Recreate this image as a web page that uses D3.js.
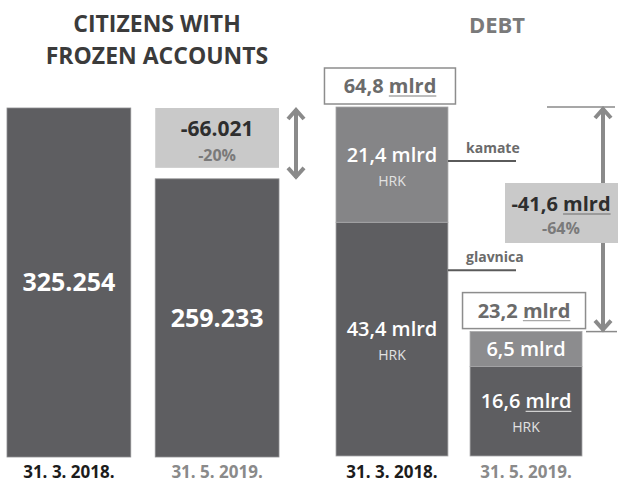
<!DOCTYPE html>
<html>
<head>
<meta charset="utf-8">
<script src="https://cdn.jsdelivr.net/npm/d3@7"></script>
<style>
  body { margin: 0; background: #fff; }
  svg { display: block; font-family: "Open Sans", sans-serif; }
</style>
</head>
<body>
<svg id="chart" width="626" height="489"></svg>
<script>
/** data **/
var dates = ["31. 3. 2018.", "31. 5. 2019."];
var citizens = [325254, 259233];
var citizenLabels = ["325.254", "259.233"];
var citizenDiff = ["-66.021", "-20%"];

var glavnica = [43.4, 16.6];
var kamate = [21.4, 6.5];
var glavnicaLabels = ["43,4", "16,6"];
var kamateLabels = ["21,4", "6,5"];
var debtTotals = ["64,8", "23,2"];
var debtDiff = ["-41,6", "-64%"];

var svg = d3.select("#chart");
var dark = "#5e5e61", mid = "#858587", light = "#c9c9c9", arrowCol = "#8a8a8a";

// arrow helper: vertical line with open chevron heads
function arrow(g, x, y1, y2, up, down) {
  g.append("line").attr("x1", x).attr("x2", x).attr("y1", y1 + 1).attr("y2", y2 - 1)
    .attr("stroke", arrowCol).attr("stroke-width", 4);
  if (up) g.append("path").attr("d", "M" + (x - 8) + "," + (y1 + 11) + "L" + x + "," + (y1 + 2) + "L" + (x + 8) + "," + (y1 + 11))
    .attr("fill", "none").attr("stroke", arrowCol).attr("stroke-width", 4);
  if (down) g.append("path").attr("d", "M" + (x - 8) + "," + (y2 - 11) + "L" + x + "," + (y2 - 2) + "L" + (x + 8) + "," + (y2 - 11))
    .attr("fill", "none").attr("stroke", arrowCol).attr("stroke-width", 4);
}

// "xx mlrd" with a thin underline under mlrd (like the spell-check line in the original)
function mlrdText(g, sel, num, lineCol) {
  var s = num + " mlrd";
  sel.text(s);
  var node = sel.node();
  var a = node.getStartPositionOfChar(s.length - 4);
  var b = node.getEndPositionOfChar(s.length - 1);
  g.append("line").attr("x1", a.x).attr("x2", b.x).attr("y1", a.y + 3).attr("y2", a.y + 3)
    .attr("stroke", lineCol).attr("stroke-width", 1.3);
}

/** LEFT: citizens **/
var xL = d3.scaleBand().domain(dates).range([7, 279]).paddingInner(0.165);
var yL = d3.scaleLinear().domain([0, 325254]).range([457, 108]);
var left = svg.append("g");

left.append("text").attr("x", 157).attr("y", 32).attr("text-anchor", "middle")
  .attr("font-size", 23).attr("font-weight", 700).attr("fill", "#3b3b3b").text("CITIZENS WITH");
left.append("text").attr("x", 157).attr("y", 64).attr("text-anchor", "middle")
  .attr("font-size", 23).attr("font-weight", 700).attr("fill", "#3b3b3b").text("FROZEN ACCOUNTS");

left.selectAll("rect.bar").data(citizens).enter().append("rect").attr("class", "bar")
  .attr("x", function(d, i) { return xL(dates[i]); })
  .attr("width", xL.bandwidth())
  .attr("y", function(d) { return yL(d); })
  .attr("height", function(d) { return yL(0) - yL(d); })
  .attr("fill", dark).attr("stroke", "#8d8d8f").attr("stroke-width", 0.8);

left.selectAll("text.val").data(citizens).enter().append("text").attr("class", "val")
  .attr("x", function(d, i) { return xL(dates[i]) + xL.bandwidth() / 2; })
  .attr("y", function(d) { return (yL(d) + yL(0)) / 2; })
  .attr("dy", "0.35em").attr("text-anchor", "middle")
  .attr("font-size", 25).attr("font-weight", 700).attr("fill", "#fff")
  .text(function(d, i) { return citizenLabels[i]; });

// difference box
var bx = xL(dates[1]), btop = yL(citizens[0]), bbot = yL(citizens[1]) - 11;
left.append("rect").attr("x", bx).attr("y", btop).attr("width", xL.bandwidth()).attr("height", bbot - btop).attr("fill", light);
left.append("text").attr("x", bx + xL.bandwidth() / 2).attr("y", btop + 28).attr("text-anchor", "middle")
  .attr("font-size", 21).attr("font-weight", 700).attr("fill", "#2e2e2e").text(citizenDiff[0]);
left.append("text").attr("x", bx + xL.bandwidth() / 2).attr("y", btop + 53).attr("text-anchor", "middle")
  .attr("font-size", 16).attr("font-weight", 700).attr("fill", "#7a7a7a").text(citizenDiff[1]);
arrow(left, 296, yL(citizens[0]), yL(citizens[1]), true, true);

left.selectAll("text.date").data(dates).enter().append("text").attr("class", "date")
  .attr("x", function(d) { return xL(d) + xL.bandwidth() / 2; })
  .attr("y", 478).attr("text-anchor", "middle")
  .attr("font-size", 17).attr("font-weight", 700)
  .attr("fill", function(d, i) { return i ? "#8a8a8a" : "#1c1c1c"; })
  .text(function(d) { return d; });

/** RIGHT: debt **/
var xR = d3.scaleBand().domain(dates).range([336, 582]).paddingInner(0.165);
var yR = d3.scaleLinear().domain([0, 64.8]).range([456, 107]);
var right = svg.append("g");

right.append("text").attr("x", 497).attr("y", 33).attr("text-anchor", "middle")
  .attr("font-size", 22).attr("font-weight", 700).attr("fill", "#7a7a7a").text("DEBT");

var stackData = dates.map(function(d, i) { return { date: d, glavnica: glavnica[i], kamate: kamate[i] }; });
var series = d3.stack().keys(["glavnica", "kamate"])(stackData);
var segFill = { glavnica: [dark, dark], kamate: [mid, "#8c8c8e"] };

right.selectAll("g.layer").data(series).enter().append("g").attr("class", "layer")
  .each(function(s) {
    d3.select(this).selectAll("rect").data(s).enter().append("rect")
      .attr("x", function(d) { return xR(d.data.date); })
      .attr("width", xR.bandwidth())
      .attr("y", function(d) { return yR(d[1]); })
      .attr("height", function(d) { return yR(d[0]) - yR(d[1]); })
      .attr("fill", function(d, i) { return segFill[s.key][i]; })
      .attr("stroke", "#a5a5a7").attr("stroke-width", 0.8);
  });

// segment labels
series.forEach(function(s) {
  s.forEach(function(d, i) {
    var cx = xR(d.data.date) + xR.bandwidth() / 2;
    var mid = (yR(d[0]) + yR(d[1])) / 2;
    var num = s.key === "glavnica" ? glavnicaLabels[i] : kamateLabels[i];
    var hasUnit = !(s.key === "kamate" && i === 1);
    var t = right.append("text").attr("x", cx).attr("y", hasUnit ? mid - 3 : mid + 7)
      .attr("text-anchor", "middle").attr("font-size", 20).attr("font-weight", 600).attr("fill", "#fff");
    if (s.key === "glavnica" && i === 1) mlrdText(right, t, num, "#d0d0d0"); else t.text(num + " mlrd");
    if (hasUnit) right.append("text").attr("x", cx).attr("y", mid + 21).attr("text-anchor", "middle")
      .attr("font-size", 14).attr("fill", "#e2e2e2").text("HRK");
  });
});

// total boxes above bars
var totals = dates.map(function(d, i) { return glavnica[i] + kamate[i]; });
totals.forEach(function(v, i) {
  var top = yR(v);
  var bw = i ? 123 : 131, bxx = xR(dates[i]) + xR.bandwidth() / 2 - bw / 2 - 2;
  right.append("rect").attr("x", bxx).attr("y", top - 39).attr("width", bw).attr("height", 36)
    .attr("fill", "#fff").attr("stroke", "#8d8d8d").attr("stroke-width", 1.5);
  var t = right.append("text").attr("x", bxx + bw / 2).attr("y", top - 14).attr("text-anchor", "middle")
    .attr("font-size", 20).attr("font-weight", 700).attr("fill", "#6b6b6b");
  mlrdText(right, t, debtTotals[i], "#a8a8a8");
});

// category callouts
var bar1Right = xR(dates[0]) + xR.bandwidth();
[["kamate", series[1][0]], ["glavnica", series[0][0]]].forEach(function(c) {
  var yy = yR(c[1][1]) + (c[0] === "kamate" ? 54 : 48);
  right.append("line").attr("x1", bar1Right).attr("x2", 516).attr("y1", yy).attr("y2", yy)
    .attr("stroke", "#5a5a5a").attr("stroke-width", 2);
  right.append("text").attr("x", 466).attr("y", yy - 8).attr("font-size", 14).attr("font-weight", 700)
    .attr("fill", "#6b6b6b").text(c[0]);
});

// change arrow
var aTop = yR(totals[0]), aBot = yR(totals[1]);
right.append("line").attr("x1", 547).attr("x2", 615).attr("y1", aTop).attr("y2", aTop).attr("stroke", arrowCol).attr("stroke-width", 1.5);
right.append("line").attr("x1", 586).attr("x2", 617).attr("y1", aBot).attr("y2", aBot).attr("stroke", arrowCol).attr("stroke-width", 1.5);
arrow(right, 603, aTop, aBot, true, true);
right.append("rect").attr("x", 505).attr("y", 183).attr("width", 113).attr("height", 60).attr("fill", light);
var dt = right.append("text").attr("x", 561).attr("y", 211).attr("text-anchor", "middle")
  .attr("font-size", 20).attr("font-weight", 700).attr("fill", "#2e2e2e");
mlrdText(right, dt, debtDiff[0], "#8a8a8a");
right.append("text").attr("x", 561).attr("y", 234).attr("text-anchor", "middle")
  .attr("font-size", 16).attr("font-weight", 700).attr("fill", "#7a7a7a").text(debtDiff[1]);

right.selectAll("text.date").data(dates).enter().append("text").attr("class", "date")
  .attr("x", function(d) { return xR(d) + xR.bandwidth() / 2; })
  .attr("y", 478).attr("text-anchor", "middle")
  .attr("font-size", 17).attr("font-weight", 700)
  .attr("fill", function(d, i) { return i ? "#8a8a8a" : "#1c1c1c"; })
  .text(function(d) { return d; });
</script>
</body>
</html>
